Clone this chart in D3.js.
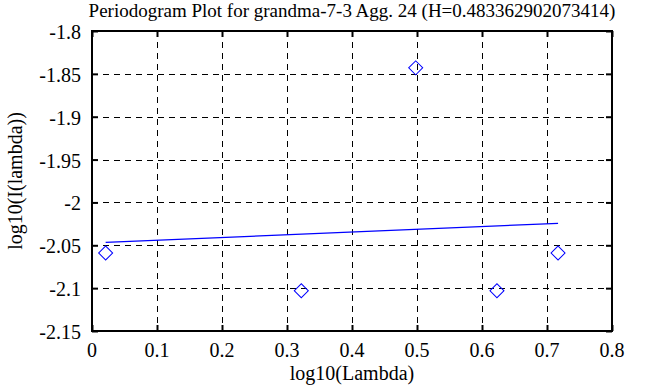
<!DOCTYPE html>
<html>
<head>
<meta charset="utf-8">
<script src="https://cdn.jsdelivr.net/npm/d3@7"></script>
<style>
  body { margin: 0; background: #fff; }
</style>
</head>
<body>
<div id="chart"></div>
<script>
// periodogram points (log10 lambda, log10 I(lambda))
var lambdaLog = [0.021, 0.322, 0.498, 0.623, 0.717];
var periodLog = [-2.059, -2.103, -1.843, -2.103, -2.059];
// least squares fit endpoints
var fitX = [0.021, 0.717];
var fitY = [-2.0466, -2.0244];

var xTicks = [0, 0.1, 0.2, 0.3, 0.4, 0.5, 0.6, 0.7, 0.8];
var yTicks = [-1.8, -1.85, -1.9, -1.95, -2, -2.05, -2.1, -2.15];

var titleText = 'Periodogram Plot for grandma-7-3 Agg. 24 (H=0.483362902073414)';
var xLabel = 'log10(Lambda)';
var yLabel = 'log10(I(lambda))';

var FONT = 'Liberation Serif';
var W = 668, H = 387;
var margin = { left: 92, right: 56, top: 31, bottom: 56 };
var width = W - margin.left - margin.right;
var height = H - margin.top - margin.bottom;

var svg = d3.select('#chart').append('svg')
  .attr('width', W)
  .attr('height', H);

var g = svg.append('g')
  .attr('transform', 'translate(' + margin.left + ',' + margin.top + ')');

var x = d3.scaleLinear().domain([0, 0.8]).range([0, width]);
var y = d3.scaleLinear().domain([-2.15, -1.8]).range([height, 0]);

// grid
g.selectAll('.vgrid')
  .data(xTicks.slice(1, -1))
  .enter().append('line')
  .attr('x1', function (d) { return Math.round(x(d)) + 0.5; })
  .attr('x2', function (d) { return Math.round(x(d)) + 0.5; })
  .attr('y1', 0).attr('y2', height)
  .attr('stroke', '#000').attr('stroke-dasharray', '6,5');

g.selectAll('.hgrid')
  .data(yTicks.slice(1, -1))
  .enter().append('line')
  .attr('y1', function (d) { return Math.round(y(d)) + 0.5; })
  .attr('y2', function (d) { return Math.round(y(d)) + 0.5; })
  .attr('x1', 0).attr('x2', width)
  .attr('stroke', '#000').attr('stroke-dasharray', '6,5');

// inside ticks on all four sides
var tickLen = 6;
var xAxisB = d3.axisBottom(x).tickValues(xTicks).tickSize(-tickLen).tickFormat('');
var xAxisT = d3.axisTop(x).tickValues(xTicks).tickSize(-tickLen).tickFormat('');
var yAxisL = d3.axisLeft(y).tickValues(yTicks).tickSize(-tickLen).tickFormat('');
var yAxisR = d3.axisRight(y).tickValues(yTicks).tickSize(-tickLen).tickFormat('');

g.append('g').attr('transform', 'translate(0,' + height + ')').call(xAxisB);
g.append('g').call(xAxisT);
g.append('g').call(yAxisL);
g.append('g').attr('transform', 'translate(' + width + ',0)').call(yAxisR);
g.selectAll('.domain').remove();
g.selectAll('.tick line').attr('stroke', '#000').attr('stroke-width', 2);

// frame
g.append('rect')
  .attr('x', 0).attr('y', 0)
  .attr('width', width).attr('height', height)
  .attr('fill', 'none')
  .attr('stroke', '#000')
  .attr('stroke-width', 2);

// tick labels
g.selectAll('.xlab')
  .data(xTicks)
  .enter().append('text')
  .attr('x', function (d) { return x(d); })
  .attr('y', height + 26)
  .attr('text-anchor', 'middle')
  .style('font-family', FONT)
  .style('font-size', '20px')
  .text(function (d) { return String(d); });

g.selectAll('.ylab')
  .data(yTicks)
  .enter().append('text')
  .attr('x', -11)
  .attr('y', function (d) { return y(d) + 8; })
  .attr('text-anchor', 'end')
  .style('font-family', FONT)
  .style('font-size', '20px')
  .text(function (d) { return String(d); });

// fit line
var line = d3.line()
  .x(function (d) { return x(d[0]); })
  .y(function (d) { return y(d[1]); });

g.append('path')
  .datum(d3.zip(fitX, fitY))
  .attr('d', line)
  .attr('fill', 'none')
  .attr('stroke', '#0000ff')
  .attr('stroke-width', 1.2);

// diamonds
var diamond = d3.symbol().type(d3.symbolSquare).size(98);
g.selectAll('.pt')
  .data(d3.zip(lambdaLog, periodLog))
  .enter().append('path')
  .attr('d', diamond)
  .attr('transform', function (d) {
    return 'translate(' + x(d[0]) + ',' + y(d[1]) + ') rotate(45)';
  })
  .attr('fill', 'none')
  .attr('stroke', '#0000ff')
  .attr('stroke-width', 1);

// titles
svg.append('text')
  .attr('x', margin.left + width / 2)
  .attr('y', 17)
  .attr('text-anchor', 'middle')
  .style('font-family', FONT)
  .style('font-size', '19px')
  .text(titleText);

svg.append('text')
  .attr('x', margin.left + width / 2)
  .attr('y', 380)
  .attr('text-anchor', 'middle')
  .style('font-family', FONT)
  .style('font-size', '20px')
  .text(xLabel);

svg.append('text')
  .attr('transform', 'translate(22,' + (margin.top + height / 2) + ') rotate(-90)')
  .attr('text-anchor', 'middle')
  .style('font-family', FONT)
  .style('font-size', '20px')
  .text(yLabel);
</script>
</body>
</html>
